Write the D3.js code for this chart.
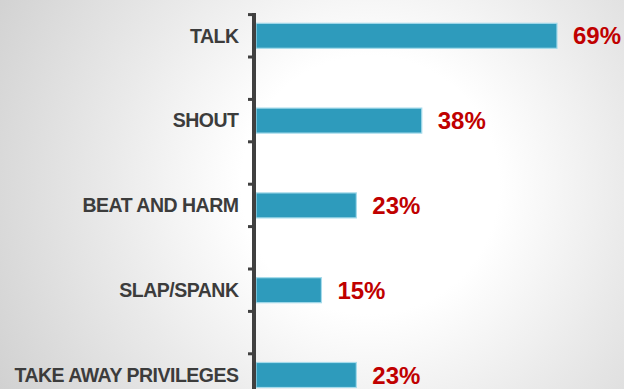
<!DOCTYPE html>
<html>
<head>
<meta charset="utf-8">
<script src="https://cdn.jsdelivr.net/npm/d3@7/dist/d3.min.js"></script>
<style>
  html, body { margin: 0; padding: 0; background: #fff; }
  svg { display: block; }
</style>
</head>
<body>
<svg id="chart" width="624" height="389"></svg>
<script>
// Responses, in display order, with the share of respondents (%)
const categories = ["TALK", "SHOUT", "BEAT AND HARM", "SLAP/SPANK", "TAKE AWAY PRIVILEGES"];
const values = [69, 38, 23, 15, 23];
const valueLabels = ["69%", "38%", "23%", "15%", "23%"];

const W = 624, H = 389;
const svg = d3.select("#chart");

// soft radial backdrop
const defs = svg.append("defs");
const grad = defs.append("radialGradient")
  .attr("id", "bg")
  .attr("gradientUnits", "userSpaceOnUse")
  .attr("cx", 370).attr("cy", 185).attr("r", 430);
grad.append("stop").attr("offset", "0.3").attr("stop-color", "#ffffff");
grad.append("stop").attr("offset", "0.6").attr("stop-color", "#eaeaea");
grad.append("stop").attr("offset", "1").attr("stop-color", "#d0d0d0");
svg.append("rect").attr("width", W).attr("height", H).attr("fill", "url(#bg)");

const axisX = 254;
const step = 84.8;
const y = d3.scaleBand()
  .domain(categories)
  .range([-6.6, -6.6 + step * categories.length])
  .paddingInner(0.705)
  .paddingOuter(0.3525);

const x = d3.scaleLinear().domain([0, 69]).range([axisX + 2, 557]);

const center = c => y(c) + y.bandwidth() / 2;

// bars
svg.selectAll("rect.bar")
  .data(categories)
  .join("rect")
  .attr("class", "bar")
  .attr("x", x(0))
  .attr("y", c => y(c))
  .attr("width", (c, i) => x(values[i]) - x(0))
  .attr("height", y.bandwidth())
  .attr("fill", "#2e9bbc")
  .attr("stroke", "#a6dbeb")
  .attr("stroke-width", 1.2);

// category axis: line with tick marks a quarter step either side of each category
const tickYs = [];
categories.forEach(c => {
  tickYs.push(center(c) - step / 4, center(c) + step / 4);
});
const axisG = svg.append("g");
axisG.append("line")
  .attr("x1", axisX).attr("x2", axisX)
  .attr("y1", tickYs[0] - 1.5).attr("y2", H + 10)
  .attr("stroke", "#404040").attr("stroke-width", 4);
axisG.selectAll("line.tick")
  .data(tickYs)
  .join("line")
  .attr("class", "tick")
  .attr("x1", axisX - 6).attr("x2", axisX)
  .attr("y1", d => d).attr("y2", d => d)
  .attr("stroke", "#404040").attr("stroke-width", 3);

// category labels
svg.selectAll("text.cat")
  .data(categories)
  .join("text")
  .attr("class", "cat")
  .attr("x", 238.5)
  .attr("y", c => center(c))
  .attr("dy", "0.35em")
  .attr("text-anchor", "end")
  .attr("font-family", "'Liberation Sans', Arial, sans-serif")
  .attr("font-weight", "bold")
  .attr("font-size", 19.5)
  .attr("letter-spacing", -0.5)
  .attr("fill", "#3c3c3c")
  .text(c => c);

// value labels
svg.selectAll("text.val")
  .data(categories)
  .join("text")
  .attr("class", "val")
  .attr("x", (c, i) => x(values[i]) + 16)
  .attr("y", c => center(c))
  .attr("dy", "0.36em")
  .attr("font-family", "'Liberation Sans', Arial, sans-serif")
  .attr("font-weight", "bold")
  .attr("font-size", 24)
  .attr("fill", "#c00000")
  .text((c, i) => valueLabels[i]);
</script>
</body>
</html>
